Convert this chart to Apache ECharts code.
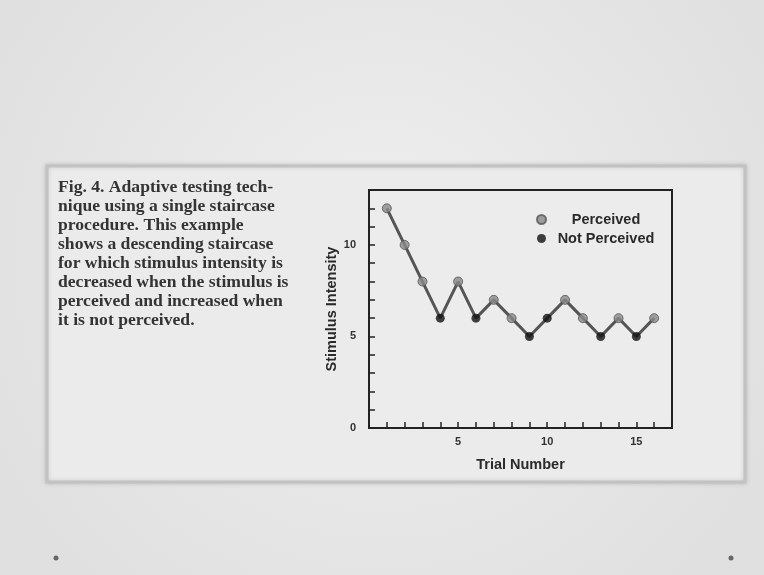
<!DOCTYPE html>
<html>
<head>
<meta charset="utf-8">
<script src="https://cdn.jsdelivr.net/npm/echarts@6/dist/echarts.min.js"></script>
<style>
html,body{margin:0;padding:0;background:#e6e6e6;}
#c{width:764px;height:575px;}
</style>
</head>
<body>
<div id="c"></div>
<script>
var trials = [1,2,3,4,5,6,7,8,9,10,11,12,13,14,15,16];
var intensity = [12,10,8,6,8,6,7,6,5,6,7,6,5,6,5,6];
var perceived = [true,true,true,false,true,false,true,true,false,false,true,true,false,true,false,true];
var yTickLabels = [0,5,10];
var xTickLabels = [5,10,15];
var captionLines = [
  'Fig. 4. Adaptive testing tech-',
  'nique using a single staircase',
  'procedure. This example',
  'shows a descending staircase',
  'for which stimulus intensity is',
  'decreased when the stimulus is',
  'perceived and increased when',
  'it is not perceived.'
];

var lineData = trials.map(function(t,i){return [t,intensity[i]];});
var percData = [], notData = [];
trials.forEach(function(t,i){ (perceived[i]?percData:notData).push([t,intensity[i]]); });

var chart = echarts.init(document.getElementById('c'));
var sans = 'Liberation Sans, Arial, sans-serif';
var graphics = [
  {type:'rect', shape:{x:0,y:0,width:764,height:575}, style:{fill:{type:'radial',x:0.5,y:0.45,r:0.75,colorStops:[{offset:0,color:'#efefef'},{offset:1,color:'#e0e0e0'}]}}, z:-10},
  {type:'rect', shape:{x:47,y:166,width:698,height:316}, style:{fill:'#ebebeb', stroke:'#c2c2c2', lineWidth:3, shadowBlur:4, shadowColor:'rgba(0,0,0,0.15)'}, z:-5},
  {type:'circle', shape:{cx:56,cy:558,r:2.5}, style:{fill:'#666'}},
  {type:'circle', shape:{cx:731,cy:558,r:2.5}, style:{fill:'#666'}}
];
captionLines.forEach(function(l,i){
  graphics.push({type:'text', x:58, y:188+i*19, scaleX:1.1, style:{text:l, font:'bold 16px "Liberation Serif", serif', fill:'#333', textVerticalAlign:'middle'}});
});

chart.setOption({
  animation:false,
  backgroundColor:'transparent',
  graphic: graphics,
  grid:{left:369, top:190, width:303, height:238, show:true, borderColor:'#222', borderWidth:2, backgroundColor:'#ececec'},
  legend:{
    show:true, left:531, top:207, orient:'vertical', itemGap:4, itemWidth:9, itemHeight:9,
    icon:'circle',
    formatter:function(n){return '{c|'+n+'}';},
    textStyle:{rich:{c:{width:110, align:'center', fontFamily:sans, fontWeight:'bold', fontSize:14.5, color:'#2a2a2a'}}},
    data:['Perceived','Not Perceived']
  },
  xAxis:{
    type:'value', min:0, max:17, interval:1,
    name:'Trial Number', nameLocation:'middle', nameGap:29,
    nameTextStyle:{fontFamily:sans, fontWeight:'bold', fontSize:14.5, color:'#2a2a2a'},
    axisLine:{show:true, lineStyle:{color:'#222', width:2}},
    axisTick:{show:true, inside:true, length:6, lineStyle:{color:'#222', width:1.5}},
    axisLabel:{margin:8, fontFamily:sans, fontWeight:'bold', fontSize:11, color:'#333',
      formatter:function(v){return xTickLabels.indexOf(v)>=0? String(v):'';}},
    splitLine:{show:false}
  },
  yAxis:{
    type:'value', min:0, max:13, interval:1,
    name:'Stimulus Intensity', nameLocation:'middle', nameGap:30, nameRotate:90,
    nameTextStyle:{fontFamily:sans, fontWeight:'bold', fontSize:14.5, color:'#2a2a2a'},
    axisLine:{show:true, lineStyle:{color:'#222', width:2}},
    axisTick:{show:true, inside:true, length:6, lineStyle:{color:'#222', width:1.5}},
    axisLabel:{margin:13, fontFamily:sans, fontWeight:'bold', fontSize:11, color:'#333',
      formatter:function(v){return yTickLabels.indexOf(v)>=0? String(v):'';}},
    splitLine:{show:false}
  },
  series:[
    {name:'staircase', type:'line', data:lineData, symbol:'none', lineStyle:{color:'#555', width:3}, z:2},
    {name:'Perceived', type:'scatter', data:percData, symbol:'circle', symbolSize:9, itemStyle:{color:'#8a8a8a', borderColor:'#555', borderWidth:1}, z:3},
    {name:'Not Perceived', type:'scatter', data:notData, symbol:'circle', symbolSize:9, itemStyle:{color:'#111'}, z:3}
  ]
});
</script>
</body>
</html>
